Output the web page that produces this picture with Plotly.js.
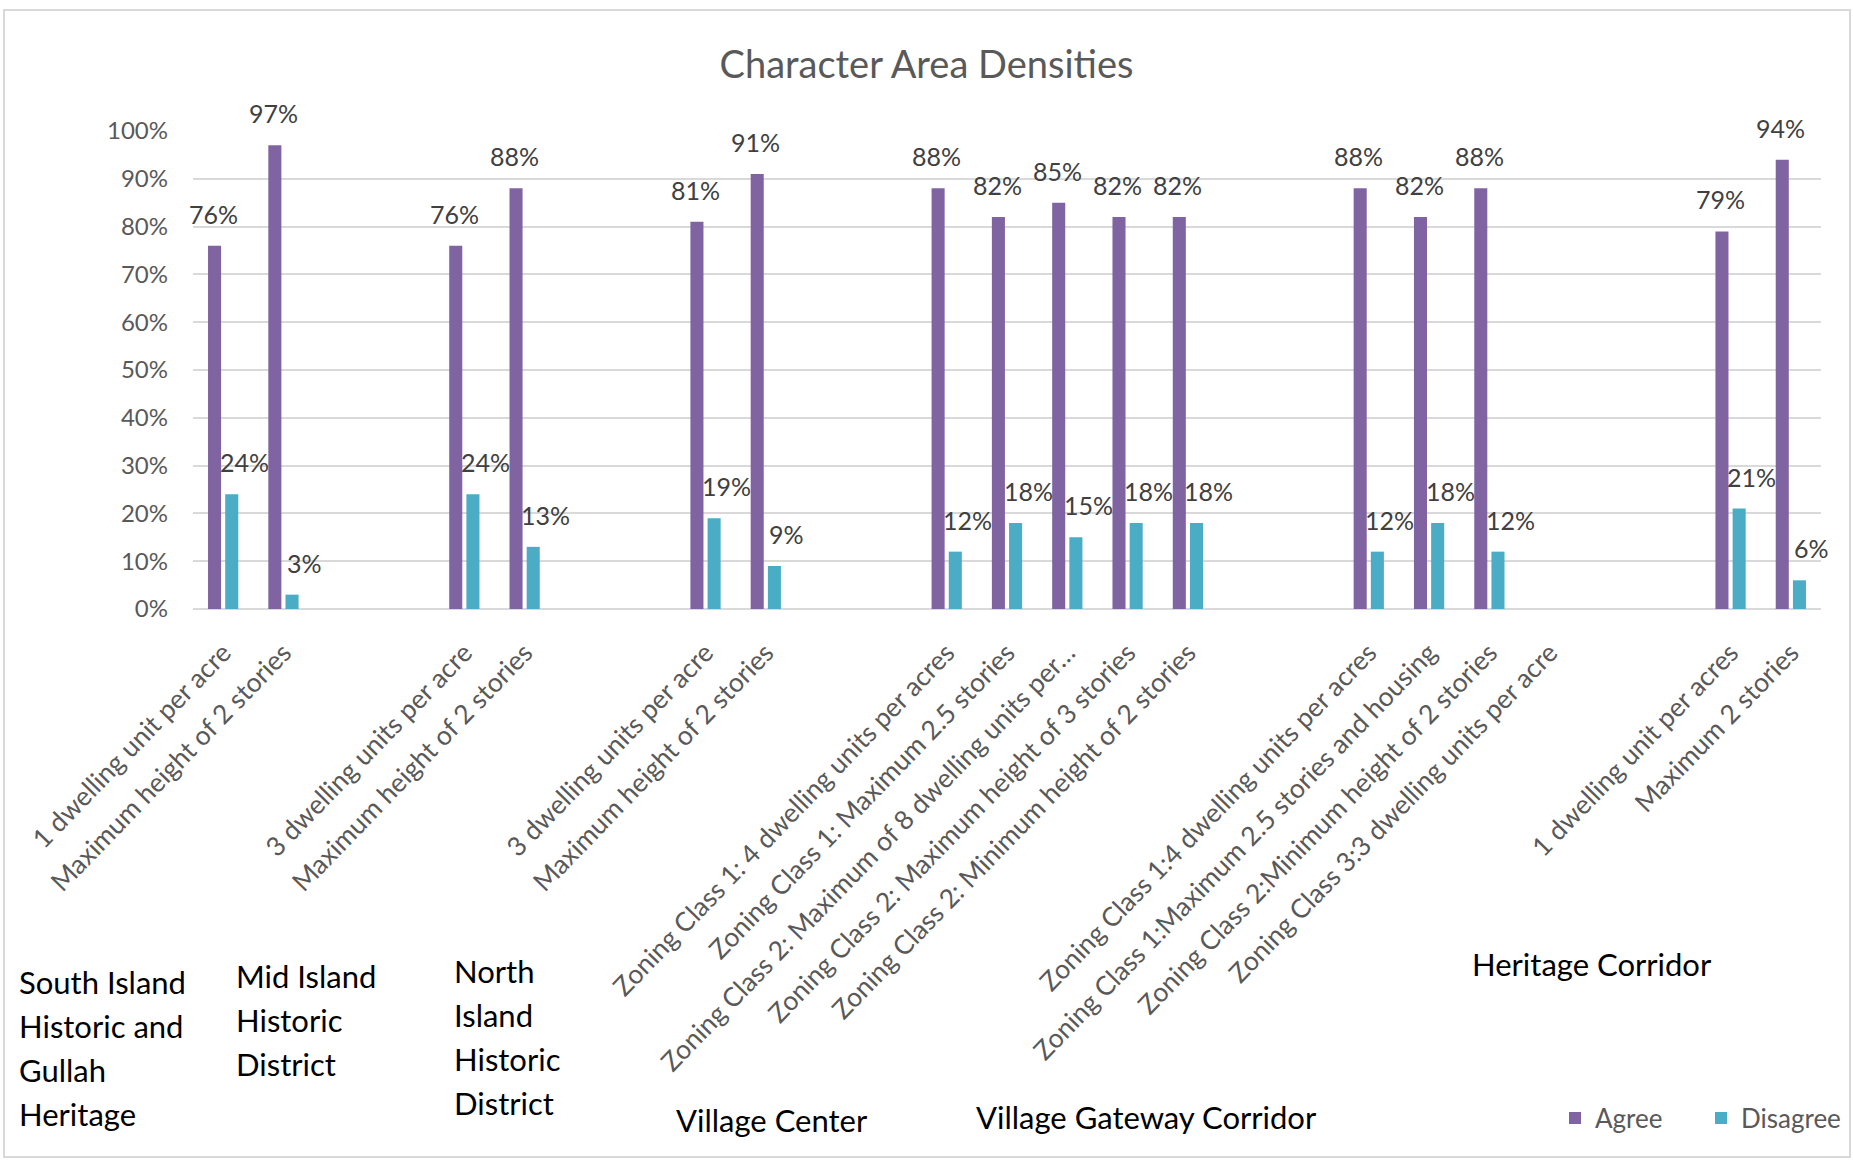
<!DOCTYPE html>
<html>
<head>
<meta charset="utf-8">
<script src="https://cdn.plot.ly/plotly-3.0.1.min.js"></script>
<style>html,body{margin:0;padding:0;background:#fff;}#chart{width:1853px;height:1160px;}</style>
</head>
<body>
<div id="chart"></div>
<script>
// ---- data ----
const categories = [
  "1 dwelling unit per acre",
  "Maximum height of 2 stories",
  "", "",
  "3 dwelling units per acre",
  "Maximum height of 2 stories",
  "", "",
  "3 dwelling units per acre",
  "Maximum height of 2 stories",
  "", "",
  "Zoning Class 1: 4 dwelling units per acres",
  "Zoning Class 1: Maximum 2.5 stories",
  "Zoning Class 2: Maximum of 8 dwelling units per…",
  "Zoning Class 2: Maximum height of 3 stories",
  "Zoning Class 2: Minimum height of 2 stories",
  "", "",
  "Zoning Class 1:4 dwelling units per acres",
  "Zoning Class 1:Maximum 2.5 stories and housing",
  "Zoning Class 2:Minimum height of 2 stories",
  "Zoning Class 3:3 dwelling units per acre",
  "", "",
  "1 dwelling unit per acres",
  "Maximum 2 stories"
];
const agree    = [76, 97, null, null, 76, 88, null, null, 81, 91, null, null, 88, 82, 85, 82, 82, null, null, 88, 82, 88, null, null, null, 79, 94];
const disagree = [24,  3, null, null, 24, 13, null, null, 19,  9, null, null, 12, 18, 15, 18, 18, null, null, 12, 18, 12, null, null, null, 21,  6];
const seriesNames = ["Agree", "Disagree"];
const groupNames = [
  ["South Island", "Historic and", "Gullah", "Heritage"],
  ["Mid Island", "Historic", "District"],
  ["North", "Island", "Historic", "District"],
  ["Village Center"],
  ["Village Gateway Corridor"],
  ["Heritage Corridor"]
];
const yTicks = [0, 10, 20, 30, 40, 50, 60, 70, 80, 90, 100];
const chartTitle = "Character Area Densities";

// ---- layout constants (pixels) ----
const W = 1853, H = 1160;
const ML = 193, MR = 32, MT = 131, MB = 551;
const PW = W - ML - MR, PH = H - MT - MB;
const px = x => (x - ML) / PW;
const py = y => (H - MB - y) / PH;
const FONT = "Lato, 'Open Sans', sans-serif";
const colors = ["#8064A2", "#4BACC6"];

const idx = categories.map((_, i) => i);

const traces = [agree, disagree].map((vals, k) => ({
  type: "bar",
  name: seriesNames[k],
  x: idx,
  y: vals,
  marker: { color: colors[k] },
  hoverinfo: "skip"
}));

// data labels (from the arrays, placed through the axes)
const annotations = [];
const shifts = [-10, 21];
[agree, disagree].forEach((vals, k) => {
  vals.forEach((v, i) => {
    if (v === null) return;
    annotations.push({
      x: i, y: v, xref: "x", yref: "y",
      text: v + "%", showarrow: false,
      xanchor: "center", yanchor: "bottom",
      xshift: shifts[k], yshift: 15,
      font: { family: FONT, size: 25, color: "#404040" }
    });
  });
});

// group text boxes: [left x, first line centre y] in pixels, line pitch 44px
const groupPos = [[17, 982], [234, 976], [452, 971], [674, 1120], [974, 1117], [1470, 964]];
const LINE = 44;
groupNames.forEach((lines, i) => {
  lines.forEach((line, j) => {
    annotations.push({
      xref: "paper", yref: "paper",
      x: px(groupPos[i][0]), y: py(groupPos[i][1] + j * LINE),
      xanchor: "left", yanchor: "middle", align: "left",
      text: line, showarrow: false,
      font: { family: FONT, size: 31, color: "#000000" }
    });
  });
});

const layout = {
  width: W, height: H,
  margin: { l: ML, r: MR, t: MT, b: MB, pad: 0, autoexpand: false },
  paper_bgcolor: "#ffffff",
  plot_bgcolor: "#ffffff",
  font: { family: FONT, color: "#595959" },
  title: {
    text: chartTitle,
    x: 0.5, xref: "container", xanchor: "center",
    y: 1 - 65 / H, yref: "container", yanchor: "middle",
    font: { family: FONT, size: 38, color: "#595959" }
  },
  barmode: "group",
  bargap: 0.43,
  bargroupgap: 0.24,
  xaxis: {
    range: [-0.5, categories.length - 0.5],
    tickmode: "array",
    tickvals: idx,
    ticktext: categories,
    tickangle: -46,
    ticks: "",
    ticklabelstandoff: 22,
    showgrid: false,
    zeroline: false,
    showline: false,
    automargin: false,
    tickfont: { family: FONT, size: 26.5, color: "#595959" }
  },
  yaxis: {
    range: [0, 100],
    tickmode: "array",
    tickvals: yTicks,
    ticktext: yTicks.map(t => t + "%"),
    ticks: "",
    ticklabelstandoff: 24,
    showgrid: true,
    gridcolor: "#D9D9D9",
    gridwidth: 2,
    zeroline: true,
    zerolinecolor: "#D9D9D9",
    zerolinewidth: 2,
    showline: false,
    automargin: false,
    tickfont: { family: FONT, size: 24, color: "#595959" }
  },
  showlegend: true,
  legend: {
    orientation: "h",
    x: px(1555), xanchor: "left",
    y: py(1118), yanchor: "middle",
    entrywidth: 101,
    font: { family: FONT, size: 26, color: "#595959" },
    bgcolor: "rgba(0,0,0,0)"
  },
  annotations: annotations,
  shapes: [{
    type: "rect", xref: "paper", yref: "paper",
    x0: px(4), x1: px(1850), y0: py(1157), y1: py(10),
    line: { color: "#D9D9D9", width: 2 }, fillcolor: "rgba(0,0,0,0)", layer: "below"
  }]
};

Plotly.newPlot("chart", traces, layout, { staticPlot: true, displayModeBar: false });
</script>
</body>
</html>
